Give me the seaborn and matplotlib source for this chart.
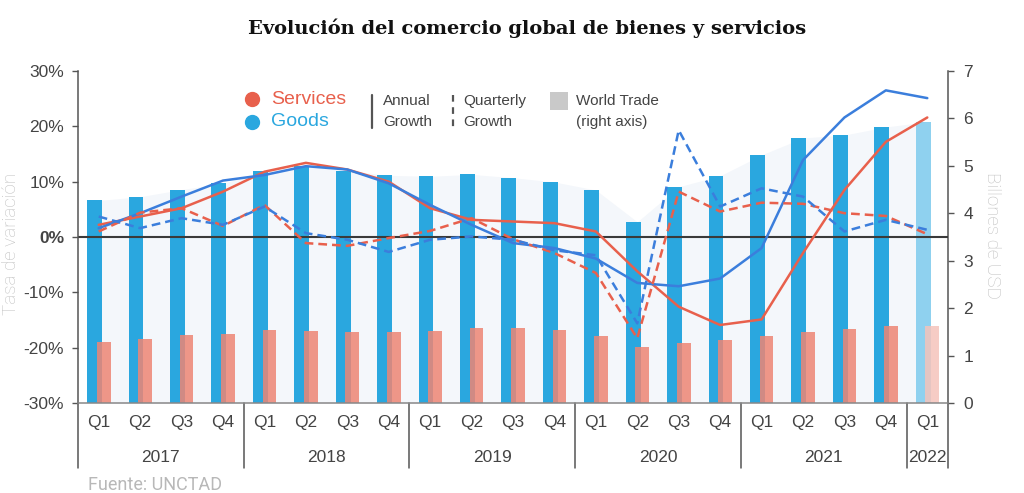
import numpy as np
import pandas as pd
import matplotlib
matplotlib.use('Agg')
import matplotlib.pyplot as plt
import matplotlib.transforms as mtrans
from matplotlib.lines import Line2D
from matplotlib.patches import Rectangle
from matplotlib import font_manager
import seaborn as sns

# ---------------- data ----------------
quarters = ['Q1', 'Q2', 'Q3', 'Q4'] * 5 + ['Q1']
period_year = ['2017'] * 4 + ['2018'] * 4 + ['2019'] * 4 + ['2020'] * 4 + ['2021'] * 4 + ['2022']
years = ['2017', '2018', '2019', '2020', '2021', '2022']

goods_value = [4.27, 4.35, 4.50, 4.63, 4.90, 4.99, 4.90, 4.80, 4.78, 4.82, 4.75, 4.66,
               4.49, 3.82, 4.56, 4.79, 5.23, 5.59, 5.65, 5.82, 5.93]
services_value = [1.29, 1.35, 1.43, 1.46, 1.54, 1.52, 1.50, 1.50, 1.52, 1.58, 1.58, 1.54,
                  1.42, 1.19, 1.27, 1.33, 1.42, 1.49, 1.55, 1.62, 1.62]

services_annual = [2.2, 3.7, 5.2, 8.2, 11.8, 13.4, 12.2, 10.0, 5.2, 3.1, 2.8, 2.5,
                   1.0, -6.2, -12.6, -15.9, -14.9, -2.9, 8.5, 17.2, 21.6]
goods_annual = [1.6, 4.3, 7.3, 10.2, 11.2, 12.8, 12.2, 9.7, 5.8, 2.2, -1.1, -2.0,
                -3.9, -8.3, -8.9, -7.5, -2.0, 13.9, 21.6, 26.5, 25.1]
services_quarterly = [1.0, 4.4, 5.2, 2.0, 5.8, -1.1, -1.6, -0.2, 1.1, 3.4, -0.4, -2.9,
                      -6.5, -18.3, 8.2, 4.6, 6.2, 6.0, 4.3, 3.8, 0.5]
goods_quarterly = [3.7, 1.6, 3.4, 2.2, 5.5, 0.7, -0.5, -2.7, -0.5, 0.1, -0.5, -2.4,
                   -3.3, -15.6, 19.3, 5.5, 8.8, 7.3, 1.0, 3.1, 1.3]

# ---------------- style ----------------
RED = '#E8604C'
BLUE_LINE = '#3B7EDC'
BLUE_BAR = '#2AA7DF'
BLUE_BAR_LIGHT = '#8FD1EF'
PINK_BAR = '#EE8574'
PINK_BAR_LIGHT = '#F5C3BB'
AXC = '#555555'
TXT = '#444444'

sns.set_theme(style='white')
names = {f.name for f in font_manager.fontManager.ttflist}
COND = 'Liberation Sans Narrow' if 'Liberation Sans Narrow' in names else 'Liberation Sans'
plt.rcParams['font.family'] = [COND, 'DejaVu Sans']

fig = plt.figure(figsize=(10.24, 4.93), dpi=100)
ax = fig.add_axes([78 / 1024, 90 / 493, 870 / 1024, 332 / 493])
ax2 = ax.twinx()
ax.set_zorder(ax2.get_zorder() + 1)
ax.patch.set_visible(False)

idx = np.arange(len(quarters))
periods = [f'{y}{q}' for y, q in zip(period_year, quarters)]
df = pd.DataFrame({
    'period': periods,
    'pos_g': idx - 0.10,
    'pos_s': idx + 0.12,
    'goods': goods_value,
    'services': services_value,
})
goods_pal = {p: (BLUE_BAR_LIGHT if p.startswith('2022') else BLUE_BAR) for p in periods}
serv_pal = {p: (PINK_BAR_LIGHT if p.startswith('2022') else PINK_BAR) for p in periods}

# faint world-trade area
ax2.fill_between(idx, 0, goods_value, color='#f4f7fb', lw=0, zorder=0)

sns.barplot(data=df, x='pos_g', y='goods', hue='period', palette=goods_pal,
            native_scale=True, width=0.36, dodge=False, legend=False,
            saturation=1, errorbar=None, ax=ax2, zorder=2, linewidth=0,
            edgecolor='none')
sns.barplot(data=df, x='pos_s', y='services', hue='period', palette=serv_pal,
            native_scale=True, width=0.33, dodge=False, legend=False,
            saturation=1, errorbar=None, ax=ax2, alpha=0.85, zorder=3,
            linewidth=0, edgecolor='none')

# lines
ax.axhline(0, color='#3a3a3a', lw=1.5, zorder=1)
sns.lineplot(x=idx, y=services_annual, color=RED, lw=1.8, ax=ax, zorder=3)
sns.lineplot(x=idx, y=goods_annual, color=BLUE_LINE, lw=1.8, ax=ax, zorder=3)
sns.lineplot(x=idx, y=services_quarterly, color=RED, lw=1.8, ax=ax, zorder=3,
             linestyle=(0, (3.5, 2.0)))
sns.lineplot(x=idx, y=goods_quarterly, color=BLUE_LINE, lw=1.8, ax=ax, zorder=3,
             linestyle=(0, (3.5, 2.0)))

# axes limits / ticks
ax.set_xlim(-0.5, len(quarters) - 0.5)
ax.set_ylim(-30, 30)
ax2.set_ylim(0, 7)
ax.set_xlabel('')
ax.set_ylabel('')
ax2.set_xlabel('')
ax2.set_ylabel('')

yt = list(range(-30, 31, 10))
ax.set_yticks(yt)
ax.set_yticklabels([f'{v}%' for v in yt])
for lab, v in zip(ax.get_yticklabels(), yt):
    if v == 0:
        lab.set_fontweight('bold')
        lab.set_color('#111111')
ax.tick_params(axis='y', left=True, length=4, width=1, color=AXC, pad=6,
               labelsize=12.5, labelcolor=TXT)
ax.set_xticks(idx)
ax.set_xticklabels(quarters)
ax.tick_params(axis='x', bottom=False, length=0, pad=9, labelsize=12.5, labelcolor=TXT)

ax2.set_yticks(range(0, 8))
ax2.tick_params(axis='y', right=True, length=4, width=1, color=AXC, pad=7,
                labelsize=12.5, labelcolor=TXT)
ax2.tick_params(axis='x', bottom=False, labelbottom=False)

for s in ['top', 'right']:
    ax.spines[s].set_visible(False)
ax.spines['left'].set_color(AXC)
ax.spines['bottom'].set_color('#888888')
for s in ['top', 'left', 'bottom']:
    ax2.spines[s].set_visible(False)
ax2.spines['right'].set_color(AXC)
for s in ax.spines.values():
    s.set_linewidth(1.1)
ax2.spines['right'].set_linewidth(1.1)
ax.grid(False)
ax2.grid(False)

# year group labels and separators
trans = mtrans.blended_transform_factory(ax.transData, ax.transAxes)
for y in years:
    pos = [i for i, py in enumerate(period_year) if py == y]
    ax.text(np.mean(pos), -0.163, y, transform=trans, ha='center', va='center',
            fontsize=12.5, color=TXT)
bounds = [-0.5] + [i + 0.5 for i in range(len(period_year) - 1)
                   if period_year[i] != period_year[i + 1]] + [len(period_year) - 0.5]
for b in bounds:
    ax.add_line(Line2D([b, b], [0, -0.195], transform=trans, color=AXC, lw=1.1,
                       clip_on=False))

# title and labels
fig.text(0.515, 0.943, 'Evolución del comercio global de bienes y servicios',
         ha='center', va='center', fontsize=14, fontweight='bold',
         family=['DejaVu Serif'], color='#111111')
fig.text(0.011, 0.505, 'Tasa de variación', rotation=90, ha='center', va='center',
         fontsize=13.5, color='#c0c0c0', family=['Roboto', 'DejaVu Sans'],
         fontweight='light')
fig.text(0.969, 0.523, 'Billones de USD', rotation=270, ha='center', va='center',
         fontsize=13.5, color='#c0c0c0', family=['Roboto', 'DejaVu Sans'],
         fontweight='light')
fig.text(88 / 1024, 1 - 476 / 493, 'Fuente: UNCTAD', ha='left', va='top',
         fontsize=13, color='#b8b8b8', family=['Roboto', 'DejaVu Sans'])

# custom legend
def fx(px):
    return px / 1024

def fy(py):
    return 1 - py / 493

fig.add_artist(Line2D([fx(252)], [fy(99)], marker='o', ms=10, color=RED, lw=0))
fig.add_artist(Line2D([fx(252)], [fy(122)], marker='o', ms=10, color=BLUE_BAR, lw=0))
fig.text(fx(271), fy(99), 'Services', color=RED, fontsize=14, ha='left', va='center')
fig.text(fx(271), fy(122), 'Goods', color=BLUE_BAR, fontsize=14, ha='left', va='center')
fig.add_artist(Line2D([fx(372), fx(372)], [fy(95), fy(128)], color=AXC, lw=1.6))
fig.text(fx(383), fy(101), 'Annual', color=TXT, fontsize=11, ha='left', va='center')
fig.text(fx(383), fy(122), 'Growth', color=TXT, fontsize=11, ha='left', va='center')
fig.add_artist(Line2D([fx(453), fx(453)], [fy(95), fy(128)], color=AXC, lw=1.6,
                      linestyle=(0, (3, 2.5))))
fig.text(fx(463), fy(101), 'Quarterly', color=TXT, fontsize=11, ha='left', va='center')
fig.text(fx(463), fy(122), 'Growth', color=TXT, fontsize=11, ha='left', va='center')
fig.add_artist(Rectangle((fx(550), fy(110)), fx(18), 18 / 493, color='#c9c9c9', lw=0))
fig.text(fx(576), fy(101), 'World Trade', color=TXT, fontsize=11, ha='left', va='center')
fig.text(fx(576), fy(122), '(right axis)', color=TXT, fontsize=11, ha='left', va='center')

fig.savefig('out.png', dpi=100, facecolor='white')
